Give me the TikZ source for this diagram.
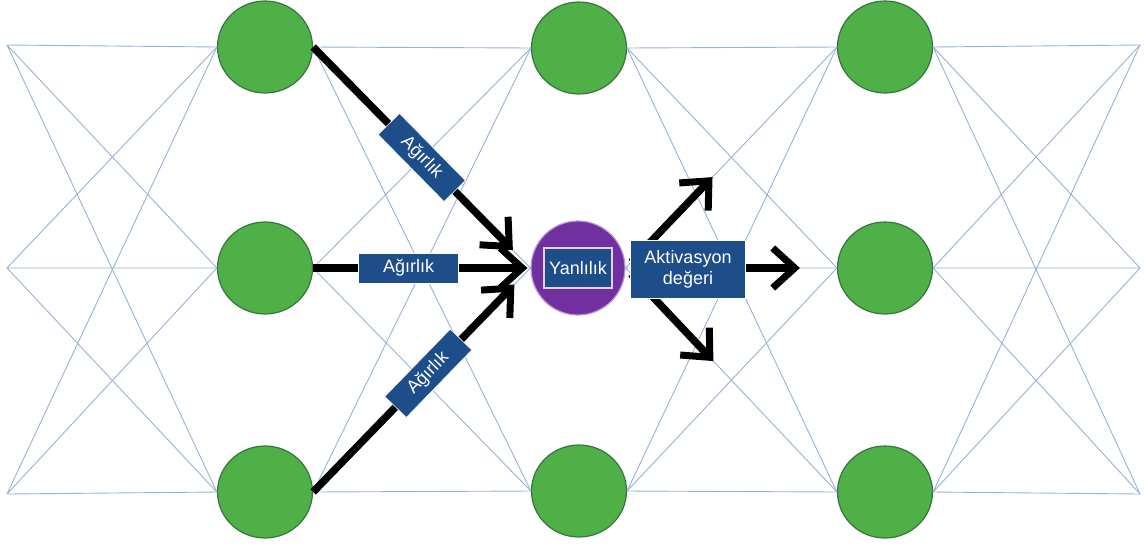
\documentclass[tikz,border=0pt]{standalone}
\usepackage{fontspec}
\setmainfont{Liberation Sans}
\usetikzlibrary{arrows.meta}
\usetikzlibrary{shapes.geometric}
\definecolor{netline}{RGB}{150,178,215}
\definecolor{nodegreen}{RGB}{80,176,72}
\definecolor{nodeborder}{RGB}{52,118,64}
\definecolor{boxblue}{RGB}{30,78,138}
\definecolor{biaspurple}{RGB}{112,48,160}
\definecolor{biasborder}{RGB}{190,150,220}
\definecolor{pinkline}{RGB}{232,205,240}
\tikzstyle{net}=[netline, line width=0.9pt]
\tikzstyle{neuron}=[ellipse, fill=nodegreen, draw=nodeborder, line width=1.2pt, minimum width=95pt, minimum height=92pt, inner sep=0pt]
\tikzstyle{wbox}=[fill=boxblue, draw=white, line width=0.6pt, text=white, font=\fontsize{18}{21}\selectfont, minimum width=94pt, minimum height=30pt, inner sep=2pt]
\tikzstyle{warrow}=[black, line width=7.5pt, -{Straight Barb[length=22pt,width=40pt,line width=7pt]}]

\begin{document}
\begin{tikzpicture}[x=1pt,y=-1pt]
        \useasboundingbox (0,0) rectangle (1145,550);
        %kenar noktalari
        \coordinate (L1) at (7,45);
        \coordinate (L2) at (7,268);
        \coordinate (L3) at (7,494);
        \coordinate (R1) at (1140,45);
        \coordinate (R2) at (1140,268);
        \coordinate (R3) at (1140,494);
        %noronlar
        \node[neuron] (A1) at (265,47) {};
        \node[neuron] (A2) at (265,268) {};
        \node[neuron] (A3) at (265,492) {};
        \node[neuron] (B1) at (579,48) {};
        \node[circle, fill=biaspurple, draw=biasborder, line width=1.2pt, minimum size=94pt] (B2) at (578,268) {};
        \node[neuron] (B3) at (579,491) {};
        \node[neuron] (C1) at (885,47) {};
        \node[neuron] (C2) at (885,268) {};
        \node[neuron] (C3) at (885,492) {};
        %baglantilar
        \draw[net] (L1) -- (A1.west) (L1) -- (A2.west) (L1) -- (A3.west);
        \draw[net] (L2) -- (A1.west) (L2) -- (A2.west) (L2) -- (A3.west);
        \draw[net] (L3) -- (A1.west) (L3) -- (A2.west) (L3) -- (A3.west);
        \draw[net] (A1.east) -- (B1.west) (A1.east) -- (B2.west) (A1.east) -- (B3.west);
        \draw[net] (A2.east) -- (B1.west) (A2.east) -- (B2.west) (A2.east) -- (B3.west);
        \draw[net] (A3.east) -- (B1.west) (A3.east) -- (B2.west) (A3.east) -- (B3.west);
        \draw[net] (B1.east) -- (C1.west) (B1.east) -- (C2.west) (B1.east) -- (C3.west);
        \draw[net] (B2.east) -- (C1.west) (B2.east) -- (C2.west) (B2.east) -- (C3.west);
        \draw[net] (B3.east) -- (C1.west) (B3.east) -- (C2.west) (B3.east) -- (C3.west);
        \draw[net] (C1.east) -- (R1) (C1.east) -- (R2) (C1.east) -- (R3);
        \draw[net] (C2.east) -- (R1) (C2.east) -- (R2) (C2.east) -- (R3);
        \draw[net] (C3.east) -- (R1) (C3.east) -- (R2) (C3.east) -- (R3);
        %agirliklar
        \draw[warrow, shorten >=25pt] (A1.east) -- (B2.west) node[wbox, sloped, pos=0.5] (w1) {Ağırlık};
        \draw[warrow, shorten >=3pt] (A2.east) -- (B2.west) node[wbox, pos=0.44, minimum width=100pt] (w2) {Ağırlık};
        \draw[warrow, shorten >=23pt] (A3.east) -- (B2.west) node[wbox, sloped, pos=0.53] (w3) {Ağırlık};
        %cikislar
        \draw[warrow, shorten <=8pt, shorten >=180pt] (B2.east) -- (C1.west);
        \draw[warrow, shorten <=8pt, shorten >=37pt] (B2.east) -- (C2.west);
        \draw[warrow, shorten <=8pt, shorten >=180pt] (B2.east) -- (C3.west);
        %yanlilik ve aktivasyon
        \node[wbox, draw=pinkline, line width=2pt, minimum width=68pt, minimum height=40pt] (yan) at (B2) {Yanlılık};
        \node[wbox, minimum width=115pt, minimum height=58pt, align=center] (akt) at (688,269) {Aktivasyon\\değeri};
\end{tikzpicture}
\end{document}
